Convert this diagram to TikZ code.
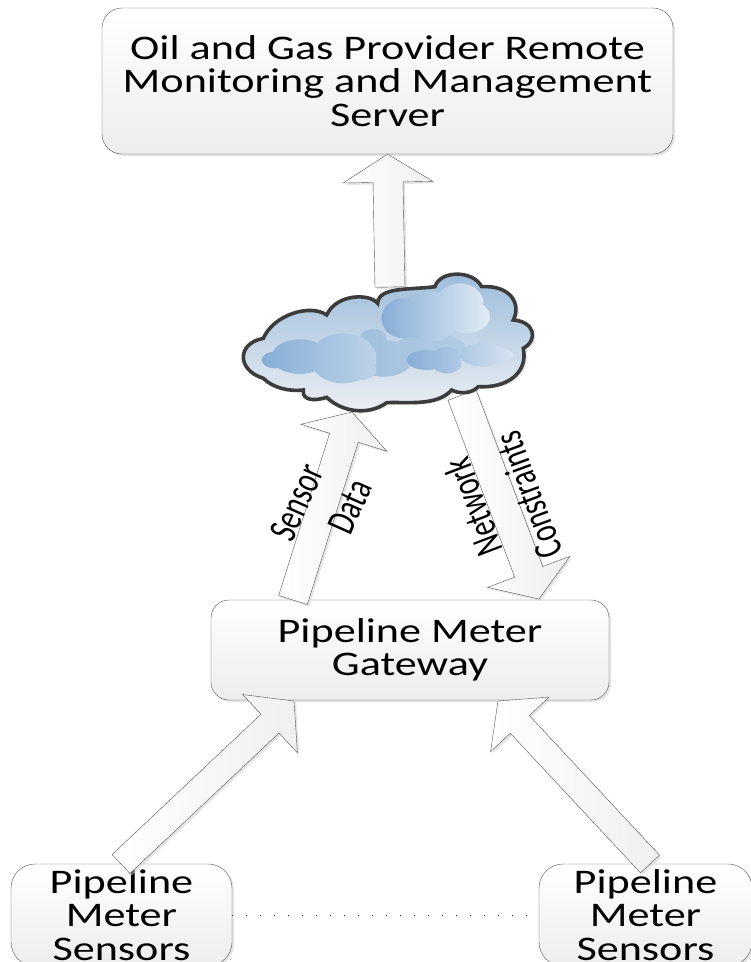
\documentclass[tikz,border=0pt]{standalone}
\usepackage{fontspec}
\usepackage{xcolor}
\usetikzlibrary{calc,shadows}
\newfontfamily\boxfont[FakeStretch=1.28]{Carlito}
\newfontfamily\labelfont[FakeStretch=0.72]{Carlito}
\definecolor{edgegray}{HTML}{555555}
\definecolor{cloudedge}{HTML}{3C3C3C}
\definecolor{cloudtopfill}{RGB}{155,188,219}
\definecolor{cloudmidfill}{RGB}{178,204,228}
\definecolor{cloudlowfill}{RGB}{238,240,243}
\definecolor{puffdark}{RGB}{135,174,214}
\tikzset{
    softshadow/.style={drop shadow={shadow xshift=2pt,shadow yshift=-2pt,fill=black!20,opacity=0.5}},
    box/.style={draw=edgegray,rounded corners=#1,softshadow,top color=white,bottom color=black!7,
        align=center,inner sep=0pt,font=\boxfont\fontsize{34.5}{33.5}\selectfont},
    textdown/.style={execute at begin node=\rule{0pt}{#1}},
    blockarrow/.style n args={3}{draw=edgegray,softshadow,left color=white,right color=black!6,
        to path={let \p1=($(\tikztotarget)!#3!(\tikztostart)$) in
            ($(\tikztostart)!#1!90:(\tikztotarget)$) -- ($(\p1)!#1!90:(\tikztotarget)$)
            -- ($(\p1)!#2!90:(\tikztotarget)$) -- (\tikztotarget)
            -- ($(\p1)!#2!-90:(\tikztotarget)$) -- ($(\p1)!#1!-90:(\tikztotarget)$)
            -- ($(\tikztostart)!#1!-90:(\tikztotarget)$) -- cycle}},
    arrowlabel/.style={inner sep=0pt,font=\labelfont\fontsize{40}{40}\selectfont},
}
\begin{document}
\begin{tikzpicture}[x=1pt,y=-1pt]
    \useasboundingbox (0,0) rectangle (751,962);
    \node[box=20pt,textdown=29pt,minimum width=571pt,minimum height=146pt] (server) at (387.5,81) {Oil and Gas Provider Remote\\Monitoring and Management\\Server};
    \node[box=18pt,textdown=31pt,minimum width=398pt,minimum height=100pt] (gateway) at (410,650) {Pipeline Meter\\Gateway};
    \node[box=24pt,minimum width=221pt,minimum height=102pt] (sensorl) at (121.5,915) {Pipeline\\Meter\\Sensors};
    \node[box=24pt,minimum width=213pt,minimum height=102pt] (sensorr) at (645.5,915) {Pipeline\\Meter\\Sensors};
    \draw[black!85,line width=1pt,dash pattern=on 1.2pt off 12.8pt] (sensorl) -- (sensorr);

    \coordinate (cloudtop) at (390,287);
    \coordinate (cloudleft) at (352,412);
    \coordinate (cloudright) at (462,395);
    \coordinate (gatewayup) at (293,600);
    \coordinate (gatewaydown) at (539,599);
    \coordinate (gatewayl) at (294,701);
    \coordinate (gatewayr) at (498,701);
    \coordinate (sensorlup) at (121,864);
    \coordinate (sensorrup) at (650,864);

    \draw[blockarrow={15pt}{45pt}{28pt}] (cloudtop) to (server.south);
    \draw[blockarrow={15pt}{45pt}{27pt}] (gatewayup) to (cloudleft);
    \draw[blockarrow={15pt}{44pt}{29pt}] (cloudright) to (gatewaydown);
    \draw[blockarrow={13pt}{40pt}{33pt}] (sensorlup) to (gatewayl);
    \draw[blockarrow={13pt}{40pt}{32pt}] (sensorrup) to (gatewayr);

    \begin{scope}[shift={(230,260)},x=0.3333pt,y=-0.3333pt]
        \draw[cloudedge,line width=3.6pt,top color=cloudtopfill,middle color=cloudmidfill,bottom color=cloudlowfill,
            drop shadow={shadow xshift=3pt,shadow yshift=-2pt,fill=black!20,opacity=0.5}]
            (100,235) .. controls (130,165) and (240,130) .. (290,165)
            .. controls (320,100) and (420,100) .. (443,130)
            .. controls (445,80) and (540,90) .. (615,80)
            .. controls (630,30) and (730,30) .. (755,80)
            .. controls (840,75) and (875,130) .. (850,180)
            .. controls (915,185) and (925,240) .. (880,265)
            .. controls (895,340) and (830,385) .. (745,380)
            .. controls (725,402) and (685,402) .. (665,390)
            .. controls (620,440) and (530,425) .. (470,428)
            .. controls (420,465) and (340,460) .. (290,412)
            .. controls (250,425) and (215,420) .. (220,390)
            .. controls (180,395) and (130,385) .. (100,355)
            .. controls (20,330) and (20,250) .. (100,235) -- cycle;
        \shade[left color=cloudtopfill!95!white,right color=cloudmidfill]
            (460,295) ellipse (90 and 55) (430,235) ellipse (40 and 28) (600,270) ellipse (110 and 50);
        \shade[left color=puffdark,right color=puffdark!55!white]
            (135,300) ellipse (40 and 25) (210,290) ellipse (85 and 52) (340,295) ellipse (100 and 75) (390,330) ellipse (50 and 30);
        \shade[left color=puffdark,right color=puffdark!25!white]
            (520,175) ellipse (65 and 60) (600,170) ellipse (90 and 75) (690,130) ellipse (70 and 60) (710,170) ellipse (70 and 50) (570,130) ellipse (40 and 30);
        \shade[left color=puffdark,right color=puffdark!35!white]
            (590,300) ellipse (60 and 30) (650,290) ellipse (40 and 30) (650,310) ellipse (45 and 30) (760,285) ellipse (70 and 35) (765,255) ellipse (25 and 15) (810,285) ellipse (40 and 20);
    \end{scope}

    \node[arrowlabel,rotate=66] (sensorlabel) at (297,502) {Sensor};
    \node[arrowlabel,rotate=66] (datalabel) at (350,507) {Data};
    \node[arrowlabel,rotate=111] (networklabel) at (473,507) {Network};
    \node[arrowlabel,rotate=110] (constraintslabel) at (528,495) {Constraints};
\end{tikzpicture}
\end{document}
